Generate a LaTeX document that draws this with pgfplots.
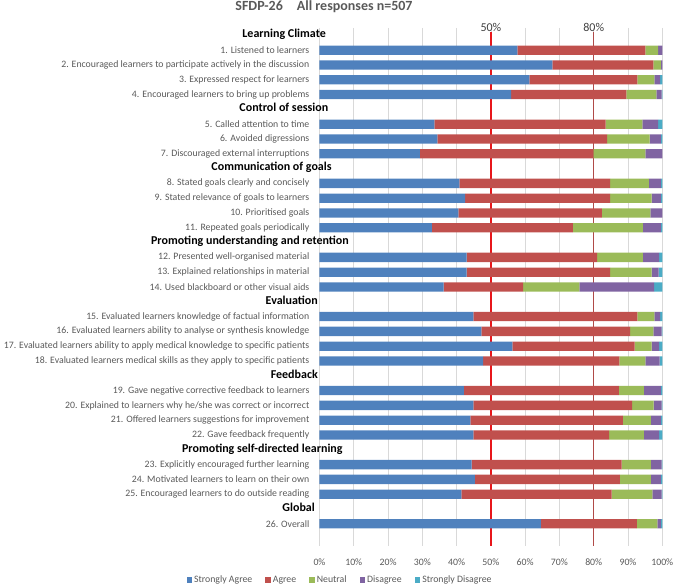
\documentclass[border=0pt]{standalone}
\usepackage{pgfplots}
\pgfplotsset{compat=1.18}
\usepackage{pgfplotstable}
\usepackage{fontspec}
\setmainfont{Carlito}
\definecolor{cSA}{HTML}{4F81BD}
\definecolor{cA}{HTML}{C0504D}
\definecolor{cN}{HTML}{9BBB59}
\definecolor{cD}{HTML}{8064A2}
\definecolor{cSD}{HTML}{4BACC6}
\definecolor{txt}{HTML}{595959}
\definecolor{gridc}{HTML}{D9D9D9}
\definecolor{lineA}{HTML}{E8161B}
\definecolor{lineB}{HTML}{B04A48}
\definecolor{reflab}{HTML}{404040}

\pgfplotstableread{
slot SA A N D SD
1 57.7 37.4 3.7 1.2 0
2 67.9 29.5 2.2 0.4 0
3 61.2 31.5 5.0 1.7 0.6
4 55.9 33.6 8.8 1.5 0.2
6 33.5 50.0 10.7 4.6 1.2
7 34.4 49.5 12.4 3.3 0.4
8 29.3 50.6 15.2 4.9 0
10 40.8 44.0 11.3 3.5 0.4
11 42.5 42.3 12.1 2.7 0.4
12 40.5 41.9 14.1 3.5 0
13 32.8 41.1 20.4 5.3 0.4
15 42.9 38.1 13.3 4.8 0.9
16 42.9 41.9 12.1 2.0 1.1
17 36.2 23.2 16.4 21.8 2.4
19 44.9 47.8 5.0 1.7 0.6
20 47.2 43.4 6.8 2.4 0.2
21 56.3 35.6 5.0 2.2 0.9
22 47.7 39.8 7.6 4.1 0.8
24 42.1 45.2 7.3 5.0 0.4
25 44.9 46.3 6.3 2.3 0.2
26 44.0 44.5 8.2 2.9 0.4
27 44.9 39.6 10.1 4.5 0.9
29 44.4 43.7 8.6 3.1 0.2
30 45.3 42.3 9.1 2.9 0.4
31 41.4 43.8 11.9 2.7 0.2
33 64.6 28.0 6.0 1.0 0.4
}\data

\newcommand{\lab}{\fontsize{9.8}{11}\selectfont}
\newcommand{\hdr}{\fontsize{12}{14}\selectfont\bfseries}

\begin{document}
\begin{tikzpicture}
\useasboundingbox (-319.5pt,-42pt) rectangle (353.5pt,546pt);
\begin{axis}[
  at={(0,0)}, anchor=south west,
  scale only axis, width=342.8pt, height=518pt,
  xbar stacked, bar width=9.3pt,
  xmin=0, xmax=100, ymin=-0.5, ymax=34.5, y dir=reverse,
  axis line style={draw=none},
  major tick length=0pt,
  tick style={draw=none},
  xtick={0,10,...,100},
  xticklabels={0\%,10\%,20\%,30\%,40\%,50\%,60\%,70\%,80\%,90\%,100\%},
  xticklabel style={font=\lab, text=txt, yshift=-9pt},
  xmajorgrids,
  grid style={draw=gridc, line width=0.75pt},
  ytick={1,2,3,4,6,7,8,10,11,12,13,15,16,17,19,20,21,22,24,25,26,27,29,30,31,33},
  yticklabels={
    {1. Listened to learners},
    {2. Encouraged learners to participate actively in the discussion},
    {3. Expressed respect for learners},
    {4. Encouraged learners to bring up problems},
    {5. Called attention to time},
    {6. Avoided digressions},
    {7. Discouraged external interruptions},
    {8. Stated goals clearly and concisely},
    {9. Stated relevance of goals to learners},
    {10. Prioritised goals},
    {11. Repeated goals periodically},
    {12. Presented well-organised material},
    {13. Explained relationships in material},
    {14. Used blackboard or other visual aids},
    {15. Evaluated learners knowledge of factual information},
    {16. Evaluated learners ability to analyse or synthesis knowledge},
    {17. Evaluated learners ability to apply medical knowledge to specific patients},
    {18. Evaluated learners medical skills as they apply to specific patients},
    {19. Gave negative corrective feedback to learners},
    {20. Explained to learners why he/she was correct or incorrect},
    {21. Offered learners suggestions for improvement},
    {22. Gave feedback frequently},
    {23. Explicitly encouraged further learning},
    {24. Motivated learners to learn on their own},
    {25. Encouraged learners to do outside reading},
    {26. Overall}},
  yticklabel style={font=\lab, text=txt, inner sep=0pt, xshift=-10pt},
  clip=false,
  legend style={at={(axis description cs:0.06,-0.0656)}, anchor=center, draw=none, fill=none,
    font=\lab, text=txt, inner sep=0pt,
    /tikz/every even column/.append style={column sep=11pt}},
  legend columns=-1,
  legend image code/.code={\path[#1] (0pt,-2.8pt) rectangle (5.6pt,2.8pt);},
]
\addplot[fill=cSA, draw=none] table[x=SA, y=slot] {\data};
\addplot[fill=cA, draw=none] table[x=A, y=slot] {\data};
\addplot[fill=cN, draw=none] table[x=N, y=slot] {\data};
\addplot[fill=cD, draw=none] table[x=D, y=slot] {\data};
\addplot[fill=cSD, draw=none] table[x=SD, y=slot] {\data};
\legend{Strongly Agree, Agree, Neutral, Disagree, Strongly Disagree}

\addplot[sharp plot, stack plots=false, forget plot, draw=lineA, line width=1.3pt] coordinates {(50,-0.23) (50,34.5)};
\addplot[sharp plot, stack plots=false, forget plot, draw=lineB, line width=0.8pt] coordinates {(80,-0.23) (80,34.5)};

\node[font=\fontsize{12}{14}\selectfont, text=reflab, anchor=south, inner sep=0.5pt] at (axis cs:50,-0.23) {50\%};
\node[font=\fontsize{12}{14}\selectfont, text=reflab, anchor=south, inner sep=0.5pt] at (axis cs:80,-0.23) {80\%};

\node[font=\hdr, anchor=mid east, inner sep=0pt] at (axis cs:1.9,0) {Learning Climate};
\node[font=\hdr, anchor=mid east, inner sep=0pt] at (axis cs:2.6,5) {Control of session};
\node[font=\hdr, anchor=mid east, inner sep=0pt] at (axis cs:3.6,9) {Communication of goals};
\node[font=\hdr, anchor=mid east, inner sep=0pt] at (axis cs:8.6,14) {Promoting understanding and retention};
\node[font=\hdr, anchor=mid east, inner sep=0pt] at (axis cs:-0.44,18) {Evaluation};
\node[font=\hdr, anchor=mid east, inner sep=0pt] at (axis cs:-0.44,23) {Feedback};
\node[font=\hdr, anchor=mid east, inner sep=0pt] at (axis cs:6.8,28) {Promoting self-directed learning};
\node[font=\hdr, anchor=mid east, inner sep=0pt] at (axis cs:-1.3,32) {Global};
\end{axis}
\node[font=\fontsize{14}{16}\selectfont\bfseries, text=txt, anchor=base, inner sep=0pt] at (4.5pt,535pt) {SFDP-26\hspace{1em}All responses n=507};
\end{tikzpicture}
\end{document}
